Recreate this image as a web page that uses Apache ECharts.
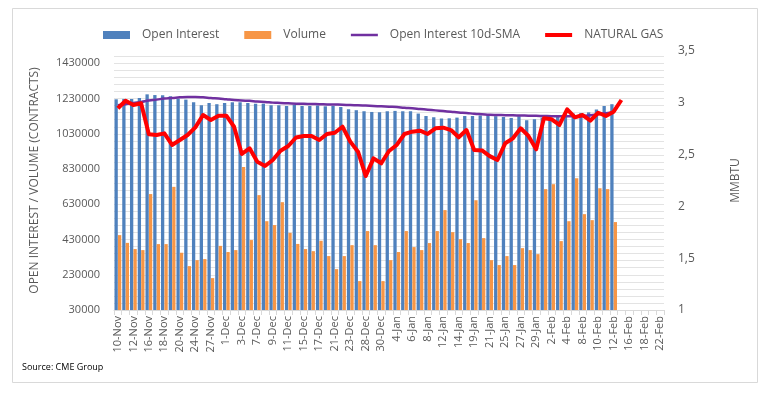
<!DOCTYPE html>
<html>
<head>
<meta charset="utf-8">
<script src="https://cdn.jsdelivr.net/npm/echarts@6/dist/echarts.min.js"></script>
<style>
  html, body { margin: 0; padding: 0; background: #fff; }
  #gasChart { width: 773px; height: 396px; }
</style>
</head>
<body>
<div id="gasChart"></div>
<script>
// trading days (CME), labels shown every other day
var dates = ['10-Nov','11-Nov','12-Nov','13-Nov','16-Nov','17-Nov','18-Nov','19-Nov','20-Nov','23-Nov','24-Nov','25-Nov','27-Nov','30-Nov',
  '1-Dec','2-Dec','3-Dec','4-Dec','7-Dec','8-Dec','9-Dec','10-Dec','11-Dec','14-Dec','15-Dec','16-Dec','17-Dec','18-Dec','21-Dec','22-Dec','23-Dec','24-Dec','28-Dec','29-Dec','30-Dec','31-Dec',
  '4-Jan','5-Jan','6-Jan','7-Jan','8-Jan','11-Jan','12-Jan','13-Jan','14-Jan','15-Jan','19-Jan','20-Jan','21-Jan','22-Jan','25-Jan','26-Jan','27-Jan','28-Jan','29-Jan',
  '1-Feb','2-Feb','3-Feb','4-Feb','5-Feb','8-Feb','9-Feb','10-Feb','11-Feb','12-Feb','15-Feb','16-Feb','17-Feb','18-Feb','19-Feb','22-Feb'];

var openInterest = [1226000,1228000,1228000,1233000,1254000,1250000,1249000,1243000,1230000,1224000,1209000,1192000,1205000,1198000,
  1205000,1209000,1209000,1205000,1201000,1201000,1192000,1192000,1188000,1194000,1188000,1188000,1190000,1186000,1188000,1182000,1169000,1164000,1158000,1154000,1152000,1158000,
  1160000,1158000,1158000,1145000,1131000,1124000,1117000,1118000,1122000,1131000,1131000,1134000,1135000,1130000,1126000,1120000,1130000,1107000,1113000,
  1122000,1120000,1126000,1145000,1145000,1148000,1152000,1168000,1188000,1198000];

var volume = [455000,411000,376000,370000,688000,404000,404000,729000,355000,279000,313000,319000,211000,394000,
  359000,370000,842000,427000,682000,534000,512000,642000,468000,405000,376000,364000,423000,336000,262000,336000,398000,194000,478000,398000,194000,313000,
  359000,478000,387000,370000,410000,478000,597000,472000,432000,410000,653000,438000,313000,285000,336000,285000,381000,370000,347000,
  716000,744000,421000,534000,778000,574000,540000,721000,716000,529000];

var oiSma = [1192000,1198000,1205000,1211000,1219000,1224000,1230000,1233000,1237000,1239000,1239000,1237000,1233000,1230000,
  1226000,1222000,1219000,1217000,1213000,1211000,1207000,1205000,1203000,1201000,1200000,1199000,1198000,1197000,1196000,1195000,1193000,1192000,1190000,1188000,1186000,1184000,
  1182000,1178000,1175000,1171000,1167000,1163000,1159000,1155000,1151000,1148000,1144000,1141000,1138000,1137000,1136000,1135000,1134000,1133000,1132000,
  1131000,1130000,1130000,1130000,1130000,1131000,1135000,1141000,1147000,1154000];

var naturalGas = [2.947,3.020,2.979,2.995,2.696,2.689,2.705,2.593,2.641,2.689,2.763,2.882,2.834,2.876,
  2.876,2.769,2.506,2.561,2.431,2.390,2.448,2.538,2.583,2.665,2.680,2.680,2.641,2.699,2.711,2.769,2.625,2.528,2.293,2.464,2.416,2.535,
  2.593,2.699,2.721,2.731,2.699,2.754,2.760,2.737,2.667,2.737,2.544,2.540,2.485,2.448,2.609,2.657,2.754,2.680,2.551,
  2.850,2.841,2.786,2.937,2.860,2.882,2.827,2.904,2.873,2.914,3.027];

var leftTicks = [30000,230000,430000,630000,830000,1030000,1230000,1430000];

// light grid lines every 40000 like the excel minor grid
var gridValues = [];
for (var g = 30000; g <= 1500000; g += 40000) {
  gridValues.push(g);
}

var font = 'Open Sans';
var grey = '#595959';

var chart = echarts.init(document.getElementById('gasChart'));
chart.setOption({
  backgroundColor: '#ffffff',
  animation: false,
  textStyle: { fontFamily: font },
  grid: {
    left: 114,
    right: 109,
    top: 51,
    bottom: 86
  },
  legend: {
    left: 98,
    top: 24,
    itemWidth: 27,
    itemHeight: 8,
    itemGap: 25,
    textStyle: { color: grey, fontSize: 12, fontFamily: font, padding: [0, 0, 0, 7] },
    data: [
      { name: 'Open Interest', icon: 'rect' },
      { name: 'Volume', icon: 'rect' },
      { name: 'Open Interest 10d-SMA', icon: 'path://M0,0H27V2.5H0Z' },  // plain line, no dot
      { name: 'NATURAL GAS', icon: 'path://M0,0H27V4H0Z' }
    ]
  },
  graphic: [
    {
      type: 'rect',
      shape: { x: 12.5, y: 8.5, width: 745, height: 374 },
      style: { fill: 'none', stroke: '#d9d9d9', lineWidth: 1 },
      silent: true
    },
    {
      type: 'text',
      left: 22,
      top: 363,
      style: { text: 'Source: CME Group', fill: '#000', font: '9px "Open Sans"' }
    }
  ],
  xAxis: {
    type: 'category',
    data: dates,
    boundaryGap: true,
    axisLine: { lineStyle: { color: '#d9d9d9' } },
    axisTick: { show: true, interval: 0, length: 5, lineStyle: { color: '#d9d9d9' } },
    axisLabel: {
      interval: 1,
      rotate: 90,
      margin: 6,
      fontSize: 11,
      color: grey
    }
  },
  yAxis: [
    {
      type: 'value',
      min: 30000,
      max: 1500000,
      name: 'OPEN INTEREST / VOLUME (CONTRACTS)',
      nameLocation: 'middle',
      nameRotate: 90,
      nameGap: 73,
      nameTextStyle: { color: grey, fontSize: 12 },
      axisLine: { show: false },
      axisTick: { show: false, customValues: gridValues },
      axisLabel: {
        customValues: leftTicks,
        color: grey,
        fontSize: 11,
        margin: 14,
        formatter: function (v) { return String(v); }  // no thousands separator
      },
      splitLine: { lineStyle: { color: '#e3e3e3' } }
    },
    {
      type: 'value',
      min: 1,
      max: 3.5,
      interval: 0.5,
      name: 'MMBTU',
      nameLocation: 'middle',
      nameRotate: 90,
      nameGap: 66,
      nameTextStyle: { color: grey, fontSize: 12 },
      axisLine: { show: false },
      axisTick: { show: false },
      axisLabel: {
        color: grey,
        fontSize: 12,
        margin: 14,
        formatter: function (v) { return String(v).replace('.', ','); }
      },
      splitLine: { show: false }
    }
  ],
  series: [
    {
      name: 'Open Interest',
      type: 'bar',
      yAxisIndex: 0,
      barWidth: 3.3,
      barGap: '5%',
      itemStyle: { color: '#4F81BD' },
      data: openInterest
    },
    {
      name: 'Volume',
      type: 'bar',
      yAxisIndex: 0,
      barWidth: 3.3,
      itemStyle: { color: '#F79646' },
      data: volume
    },
    {
      name: 'Open Interest 10d-SMA',
      type: 'line',
      yAxisIndex: 0,
      symbol: 'none',
      smooth: true,
      lineStyle: { color: '#7030A0', width: 2.5 },
      itemStyle: { color: '#7030A0' },
      data: oiSma
    },
    {
      name: 'NATURAL GAS',
      type: 'line',
      yAxisIndex: 1,
      symbol: 'none',
      lineStyle: { color: '#FF0000', width: 4, join: 'round' },
      itemStyle: { color: '#FF0000' },
      data: naturalGas
    }
  ]
});
</script>
</body>
</html>
